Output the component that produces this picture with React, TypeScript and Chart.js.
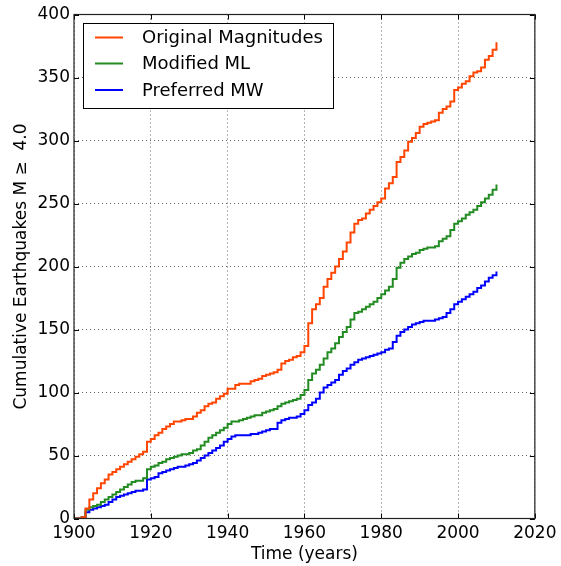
import React, { useEffect, useRef } from "react";
import { Chart, registerables } from "chart.js";

Chart.register(...registerables);

const years: number[] = [
  1900, 1901, 1902, 1903, 1904, 1905, 1906, 1907, 1908, 1909,
  1910, 1911, 1912, 1913, 1914, 1915, 1916, 1917, 1918, 1919,
  1920, 1921, 1922, 1923, 1924, 1925, 1926, 1927, 1928, 1929,
  1930, 1931, 1932, 1933, 1934, 1935, 1936, 1937, 1938, 1939,
  1940, 1941, 1942, 1943, 1944, 1945, 1946, 1947, 1948, 1949,
  1950, 1951, 1952, 1953, 1954, 1955, 1956, 1957, 1958, 1959,
  1960, 1961, 1962, 1963, 1964, 1965, 1966, 1967, 1968, 1969,
  1970, 1971, 1972, 1973, 1974, 1975, 1976, 1977, 1978, 1979,
  1980, 1981, 1982, 1983, 1984, 1985, 1986, 1987, 1988, 1989,
  1990, 1991, 1992, 1993, 1994, 1995, 1996, 1997, 1998, 1999,
  2000, 2001, 2002, 2003, 2004, 2005, 2006, 2007, 2008, 2009,
  2010,
];

const originalMagnitudes: number[] = [
  0, 0, 1, 8, 15, 20, 24, 28, 31, 35,
  37, 39, 41, 43, 45, 47, 49, 51, 53, 61,
  63, 66, 68, 71, 73, 75, 77, 77, 78, 79,
  79, 81, 84, 86, 89, 91, 92, 95, 97, 99,
  103, 103, 106, 107, 107, 107, 109, 110, 111, 113,
  114, 115, 116, 118, 123, 125, 126, 128, 129, 132,
  137, 155, 166, 170, 175, 184, 190, 195, 200, 206,
  212, 219, 227, 234, 237, 238, 242, 245, 248, 251,
  254, 262, 266, 271, 283, 287, 292, 299, 302, 306,
  311, 313, 314, 315, 316, 322, 325, 327, 331, 340,
  342, 345, 347, 351, 354, 355, 358, 364, 367, 372,
  378,
];

const modifiedML: number[] = [
  0, 0, 1, 7, 9, 10, 11, 13, 15, 17,
  19, 21, 23, 25, 27, 29, 30, 30, 32, 39,
  41, 42, 44, 45, 47, 48, 49, 50, 51, 51,
  52, 54, 55, 58, 61, 64, 66, 68, 70, 72,
  75, 77, 77, 78, 79, 80, 81, 82, 82, 84,
  85, 86, 87, 89, 91, 92, 93, 94, 95, 98,
  102, 110, 115, 118, 122, 127, 132, 135, 139, 144,
  148, 152, 158, 163, 164, 166, 168, 170, 172, 175,
  178, 181, 184, 190, 199, 203, 206, 208, 210, 211,
  213, 214, 215, 215, 216, 220, 222, 224, 229, 234,
  236, 238, 241, 243, 245, 248, 251, 254, 257, 261,
  265,
];

const preferredMW: number[] = [
  0, 0, 1, 5, 7, 8, 9, 10, 11, 13,
  15, 17, 18, 19, 20, 21, 22, 22, 23, 31,
  32, 33, 36, 37, 38, 39, 40, 41, 41, 42,
  43, 44, 46, 48, 50, 52, 54, 56, 58, 61,
  63, 65, 66, 66, 66, 66, 67, 67, 68, 69,
  70, 71, 71, 76, 78, 79, 80, 80, 81, 83,
  86, 90, 92, 95, 100, 104, 106, 108, 110, 114,
  117, 119, 122, 124, 126, 127, 128, 129, 130, 131,
  132, 134, 135, 140, 145, 148, 150, 152, 154, 155,
  156, 157, 157, 157, 158, 159, 160, 163, 166, 170,
  172, 174, 176, 178, 180, 183, 185, 188, 191, 193,
  196,
];

const seriesNames: string[] = ["Original Magnitudes", "Modified ML", "Preferred MW"];
const seriesColors: string[] = ["#ff4500", "#228b22", "#0000ff"];
const xTicks: number[] = [1900, 1920, 1940, 1960, 1980, 2000, 2020];
const yTicks: number[] = [0, 50, 100, 150, 200, 250, 300, 350, 400];

const FONT = "'DejaVu Sans', sans-serif";

const frameAndTicks = {
  id: "frameAndTicks",
  afterDraw(chart: any) {
    const { ctx, chartArea: a, scales } = chart;
    ctx.save();
    ctx.strokeStyle = "#000";
    ctx.lineWidth = 1;
    const L = 5;
    ctx.beginPath();
    for (const v of xTicks) {
      const px = Math.round(scales.x.getPixelForValue(v)) + 0.5;
      ctx.moveTo(px, a.bottom);
      ctx.lineTo(px, a.bottom - L);
      ctx.moveTo(px, a.top);
      ctx.lineTo(px, a.top + L);
    }
    for (const v of yTicks) {
      const py = Math.round(scales.y.getPixelForValue(v)) + 0.5;
      ctx.moveTo(a.left, py);
      ctx.lineTo(a.left + L, py);
      ctx.moveTo(a.right, py);
      ctx.lineTo(a.right - L, py);
    }
    ctx.stroke();
    ctx.strokeStyle = "#222";
    ctx.lineWidth = 1.2;
    ctx.strokeRect(a.left, a.top, a.right - a.left, a.bottom - a.top);

    // legend
    const bx = 83, by = 23, bw = 250, bh = 85;
    ctx.fillStyle = "#fff";
    ctx.fillRect(bx, by, bw, bh);
    ctx.strokeStyle = "#000";
    ctx.lineWidth = 1;
    ctx.strokeRect(bx + 0.5, by + 0.5, bw, bh);
    ctx.font = `18px ${FONT}`;
    ctx.textBaseline = "middle";
    ctx.textAlign = "left";
    const rows = [37.5, 63.5, 90];
    seriesNames.forEach((name, i) => {
      ctx.strokeStyle = seriesColors[i];
      ctx.lineWidth = 2;
      ctx.beginPath();
      ctx.moveTo(95, rows[i]);
      ctx.lineTo(123, rows[i]);
      ctx.stroke();
      ctx.fillStyle = "#000";
      ctx.fillText(name, 142, rows[i] + 1);
    });
    ctx.restore();
  },
};

export default function App() {
  const ref = useRef<HTMLCanvasElement | null>(null);
  useEffect(() => {
    if (!ref.current) return;
    const mk = (vals: number[], i: number) => ({
      label: seriesNames[i],
      data: years.map((y, k) => ({ x: y, y: vals[k] })),
      borderColor: seriesColors[i],
      backgroundColor: seriesColors[i],
      borderWidth: 2,
      pointRadius: 0,
      stepped: "before" as const,
      fill: false,
    });
    const chart = new Chart(ref.current, {
      type: "line",
      data: {
        datasets: [
          mk(originalMagnitudes, 0),
          mk(modifiedML, 1),
          mk(preferredMW, 2),
        ],
      },
      options: {
        animation: false,
        responsive: false,
        maintainAspectRatio: false,
        layout: { padding: { top: 14.5, right: 24, left: 0, bottom: 0 } },
        plugins: { legend: { display: false }, tooltip: { enabled: false } },
        scales: {
          x: {
            type: "linear",
            min: 1900,
            max: 2020,
            afterBuildTicks: (s: any) => {
              s.ticks = xTicks.map((v) => ({ value: v }));
            },
            afterFit: (s: any) => {
              s.height = 47.5;
            },
            ticks: {
              callback: (v: any) => String(v),
              color: "#000",
              font: { family: FONT, size: 17 },
              padding: 4.5,
              maxRotation: 0,
            },
            grid: {
              color: "rgba(0,0,0,0.6)",
              drawTicks: false,
              lineWidth: 1,
            },
            border: { display: false, dash: [1, 3] } as any,
            title: {
              display: true,
              text: "Time (years)",
              color: "#000",
              font: { family: FONT, size: 17 },
              padding: { top: 0, bottom: 1 },
            },
          },
          y: {
            type: "linear",
            min: 0,
            max: 400,
            afterBuildTicks: (s: any) => {
              s.ticks = yTicks.map((v) => ({ value: v }));
            },
            afterFit: (s: any) => {
              s.width = 74;
            },
            ticks: {
              color: "#000",
              font: { family: FONT, size: 17 },
              padding: 4,
            },
            grid: {
              color: "rgba(0,0,0,0.6)",
              drawTicks: false,
              lineWidth: 1,
            },
            border: { display: false, dash: [1, 3] } as any,
            title: {
              display: true,
              text: "Cumulative Earthquakes M \u2265  4.0",
              color: "#000",
              font: { family: FONT, size: 17 },
              padding: { top: 11, bottom: 0 },
            },
          },
        },
      },
      plugins: [frameAndTicks],
    });
    return () => chart.destroy();
  }, []);
  return (
    <div style={{ position: "absolute", left: 0, top: 0, width: 561, height: 566, background: "#fff" }}>
      <canvas ref={ref} width={561} height={566} style={{ display: "block" }} />
    </div>
  );
}
